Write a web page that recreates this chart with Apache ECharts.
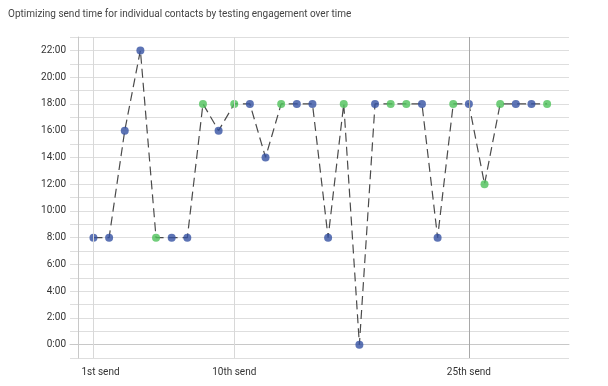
<!DOCTYPE html>
<html>
<head>
<meta charset="utf-8">
<script src="https://cdn.jsdelivr.net/npm/echarts@6/dist/echarts.min.js"></script>
<style>html,body{margin:0;padding:0;background:#fff}#c{width:608px;height:386px}</style>
</head>
<body>
<div id="c"></div>
<script>
// send number (1-based)
var sends = [1,2,3,4,5,6,7,8,9,10,11,12,13,14,15,16,17,18,19,20,21,22,23,24,25,26,27,28,29,30];
// hour of day each send went out
var hours = [8,8,16,22,8,8,8,18,16,18,18,14,18,18,18,8,18,0,18,18,18,18,8,18,18,12,18,18,18,18];
// group of each send: 'test' (blue) or 'engaged' (green)
var groups = ['test','test','test','test','engaged','test','test','engaged','test','engaged',
              'test','test','engaged','test','test','test','engaged','test','test','engaged',
              'engaged','test','test','engaged','test','engaged','engaged','test','test','engaged'];
var tickSends = [1,10,25];
var tickLabels = ['1st send','10th send','25th send'];
var yTicks = [0,2,4,6,8,10,12,14,16,18,20,22];

var linePts = sends.map(function(s,i){return [s,hours[i]];});
var bluePts = [], greenPts = [];
sends.forEach(function(s,i){ (groups[i]==='test'?bluePts:greenPts).push([s,hours[i]]); });

var chart = echarts.init(document.getElementById('c'));
chart.setOption({
  animation:false,
  backgroundColor:'#fff',
  textStyle:{fontFamily:'Roboto'},
  title:{text:'Optimizing send time for individual contacts by testing engagement over time',
    left:3, top:4, textStyle:{fontSize:10, fontWeight:'normal', color:'#444', fontFamily:'Roboto'}},
  grid:{left:70, right:39, top:37, bottom:28, containLabel:false},
  xAxis:{type:'value', min:-0.5, max:31.4,
    axisLine:{show:true, lineStyle:{color:'#c8c8c8'}},
    axisTick:{show:false}, splitLine:{show:false},
    axisLabel:{customValues:tickSends, color:'#333', fontSize:10, margin:9,
      formatter:function(v){var i=tickSends.indexOf(v); if(i<0) return ''; return i===0?'{p|'+tickLabels[i]+'}':tickLabels[i];},
      rich:{p:{padding:[0,0,0,14], fontSize:10, color:'#333'}}}
  },
  yAxis:{type:'value', min:-1, max:23, interval:1,
    axisLine:{show:true, lineStyle:{color:'#c8c8c8'}},
    axisTick:{show:false},
    splitLine:{show:true, lineStyle:{color:'#dedede', width:1}},
    axisLabel:{color:'#333', fontSize:10, margin:4,
      formatter:function(v){return yTicks.indexOf(v)>=0 ? v+':00' : '';}}
  },
  series:[
    {type:'line', data:linePts, symbol:'none', z:2,
     lineStyle:{color:'#4a4a4a', width:1.2, type:[9,5]},
     markLine:{silent:true, symbol:'none', label:{show:false}, animation:false,
       data:[{xAxis:tickSends[0], lineStyle:{color:'#d8d8d8', width:1, type:'solid'}},
             {xAxis:tickSends[1], lineStyle:{color:'#d8d8d8', width:1, type:'solid'}},
             {xAxis:tickSends[2], lineStyle:{color:'#a8a8a8', width:1, type:'solid'}}]}},
    {type:'scatter', data:bluePts, symbolSize:8, z:3, itemStyle:{color:'#3551a2'}},
    {type:'scatter', data:greenPts, symbolSize:8, z:3, itemStyle:{color:'#4dc25a'}}
  ]
});
</script>
</body>
</html>
